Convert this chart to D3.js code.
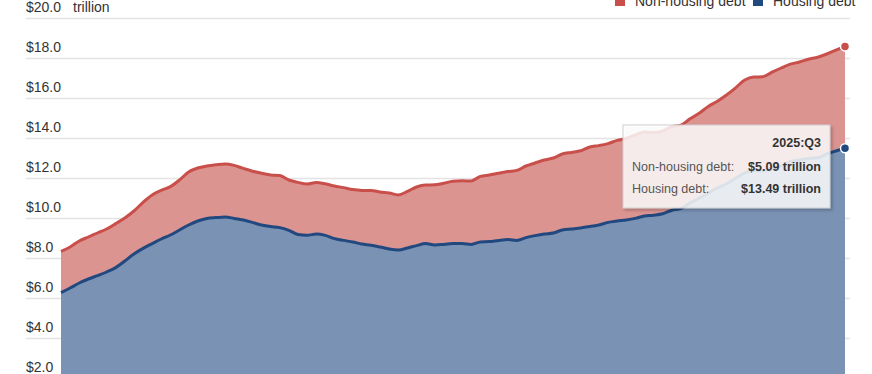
<!DOCTYPE html>
<html>
<head>
<meta charset="utf-8">
<script src="https://cdn.jsdelivr.net/npm/d3@7"></script>
<style>
  html, body { margin: 0; padding: 0; background: #fff; overflow: hidden; }
  svg { display: block; font-family: Arial, "Liberation Sans", sans-serif; }
</style>
</head>
<body>
<div id="chart"></div>
<script>
// household debt, trillions of dollars, 2004:Q1 .. 2025:Q3
const startYear = 2004;
const quarters = d3.range(87).map(i => `${startYear + Math.floor(i / 4)}:Q${(i % 4) + 1}`);

const housing = [
  6.27, 6.50, 6.75, 6.95, 7.12, 7.30, 7.52, 7.85, 8.20, 8.48,
  8.72, 8.95, 9.15, 9.40, 9.65, 9.85, 9.98, 10.02, 10.05, 9.98,
  9.90, 9.78, 9.65, 9.57, 9.52, 9.38, 9.18, 9.14, 9.20, 9.13,
  8.97, 8.88, 8.80, 8.70, 8.64, 8.55, 8.45, 8.40, 8.50, 8.62,
  8.72, 8.65, 8.68, 8.72, 8.72, 8.68, 8.80, 8.82, 8.88, 8.92,
  8.88, 9.02, 9.12, 9.20, 9.25, 9.40, 9.45, 9.50, 9.58, 9.65,
  9.78, 9.85, 9.90, 9.98, 10.10, 10.14, 10.21, 10.39, 10.48, 10.76,
  10.99, 11.25, 11.50, 11.71, 11.99, 12.26, 12.38, 12.35, 12.49, 12.61,
  12.82, 12.90, 12.98, 13.01, 13.20, 13.35, 13.49
];

const nonHousing = [
  2.06, 2.05, 2.10, 2.10, 2.13, 2.15, 2.20, 2.15, 2.15, 2.30,
  2.43, 2.43, 2.42, 2.50, 2.65, 2.65, 2.62, 2.64, 2.65, 2.65,
  2.58, 2.56, 2.59, 2.58, 2.60, 2.52, 2.60, 2.56, 2.58, 2.58,
  2.63, 2.64, 2.62, 2.68, 2.74, 2.75, 2.80, 2.75, 2.83, 2.93,
  2.93, 3.01, 3.06, 3.12, 3.14, 3.17, 3.28, 3.33, 3.36, 3.40,
  3.50, 3.58, 3.63, 3.70, 3.75, 3.80, 3.83, 3.86, 3.97, 3.97,
  3.94, 4.03, 4.08, 4.17, 4.20, 4.13, 4.14, 4.17, 4.16, 4.20,
  4.25, 4.33, 4.34, 4.44, 4.52, 4.64, 4.67, 4.71, 4.80, 4.89,
  4.87, 4.90, 4.96, 5.03, 5.00, 5.04, 5.09
];

const yTicks = [2, 4, 6, 8, 10, 12, 14, 16, 18, 20];
const seriesNames = ["Non-housing debt", "Housing debt"];

const width = 872, height = 374;
const colors = {
  housing: { fill: "#7a92b4", line: "#21497f" },
  nonHousing: { fill: "#dc9491", line: "#c94f4a" }
};

const rows = quarters.map((q, i) => ({ q, housing: housing[i], nonHousing: nonHousing[i] }));
const stacked = d3.stack().keys(["housing", "nonHousing"])(rows);

const svg = d3.select("#chart").append("svg")
  .attr("width", width).attr("height", height)
  .attr("viewBox", [0, 0, width, height]);

const x = d3.scalePoint().domain(quarters).range([61, 845]);
const y = d3.scaleLinear().domain([0, 20]).range([418, 18]);

// grid + labels
const grid = svg.append("g");
grid.selectAll("line").data(yTicks).join("line")
  .attr("x1", 26).attr("x2", 850)
  .attr("y1", d => y(d) + 0.5).attr("y2", d => y(d) + 0.5)
  .attr("stroke", "#e3e3e3").attr("stroke-width", 1.5);
grid.selectAll("text").data(yTicks).join("text")
  .attr("x", 26).attr("y", d => y(d) - 6)
  .attr("font-size", 14).attr("fill", "#333")
  .text(d => "$" + d3.format(".1f")(d));
svg.append("text").attr("x", 73).attr("y", y(20) - 6)
  .attr("font-size", 14).attr("fill", "#333").text("trillion");

// areas
const area = d3.area().curve(d3.curveMonotoneX)
  .x(d => x(d.data.q)).y0(d => y(d[0])).y1(d => y(d[1]));
const line = d3.line().curve(d3.curveMonotoneX)
  .x(d => x(d.data.q)).y(d => y(d[1]));

const layers = [
  { s: stacked[0], c: colors.housing },
  { s: stacked[1], c: colors.nonHousing }
];
svg.append("g").selectAll("path").data(layers).join("path")
  .attr("d", d => area(d.s)).attr("fill", d => d.c.fill);
svg.append("g").selectAll("path").data(layers).join("path")
  .attr("d", d => line(d.s)).attr("fill", "none")
  .attr("stroke", d => d.c.line).attr("stroke-width", 3)
  .attr("stroke-linejoin", "round");

// end dots
const last = quarters.length - 1;
svg.append("g").selectAll("circle").data(layers).join("circle")
  .attr("cx", x(quarters[last])).attr("cy", d => y(d.s[last][1]))
  .attr("r", 4.5).attr("fill", d => d.c.line)
  .attr("stroke", "#fff").attr("stroke-width", 1.5);

// legend
const legend = svg.append("g");
const legendItems = [
  { name: seriesNames[0], color: colors.nonHousing.line, x: 615 },
  { name: seriesNames[1], color: colors.housing.line, x: 753 }
];
legend.selectAll("rect").data(legendItems).join("rect")
  .attr("x", d => d.x).attr("y", -4).attr("width", 10).attr("height", 10)
  .attr("fill", d => d.color);
legend.selectAll("text").data(legendItems).join("text")
  .attr("x", d => d.x + 20).attr("y", 6)
  .attr("font-size", 14).attr("fill", "#333")
  .text(d => d.name);

// tooltip
const tip = svg.append("g").attr("transform", "translate(623,125)");
const defs = svg.append("defs");
const f = defs.append("filter").attr("id", "shadow")
  .attr("x", "-10%").attr("y", "-10%").attr("width", "130%").attr("height", "140%");
f.append("feDropShadow").attr("dx", 2).attr("dy", 2).attr("stdDeviation", 1.5)
  .attr("flood-color", "#000").attr("flood-opacity", 0.25);
tip.append("rect").attr("width", 207).attr("height", 83)
  .attr("fill", "rgba(255,255,255,0.82)").attr("stroke", "#cfcfcf")
  .attr("filter", "url(#shadow)");
tip.append("text").attr("x", 198).attr("y", 22).attr("text-anchor", "end")
  .attr("font-size", 12.5).attr("font-weight", "bold").attr("fill", "#333")
  .text(quarters[last]);
const tipRows = [
  { label: seriesNames[0] + ":", v: nonHousing[last], y: 46 },
  { label: seriesNames[1] + ":", v: housing[last], y: 68 }
];
tip.selectAll("text.l").data(tipRows).join("text").attr("class", "l")
  .attr("x", 9).attr("y", d => d.y)
  .attr("font-size", 12.5).attr("fill", "#555").text(d => d.label);
tip.selectAll("text.v").data(tipRows).join("text").attr("class", "v")
  .attr("x", 198).attr("y", d => d.y).attr("text-anchor", "end")
  .attr("font-size", 12.5).attr("font-weight", "bold").attr("fill", "#333")
  .text(d => "$" + d3.format(".2f")(d.v) + " trillion");
</script>
</body>
</html>
